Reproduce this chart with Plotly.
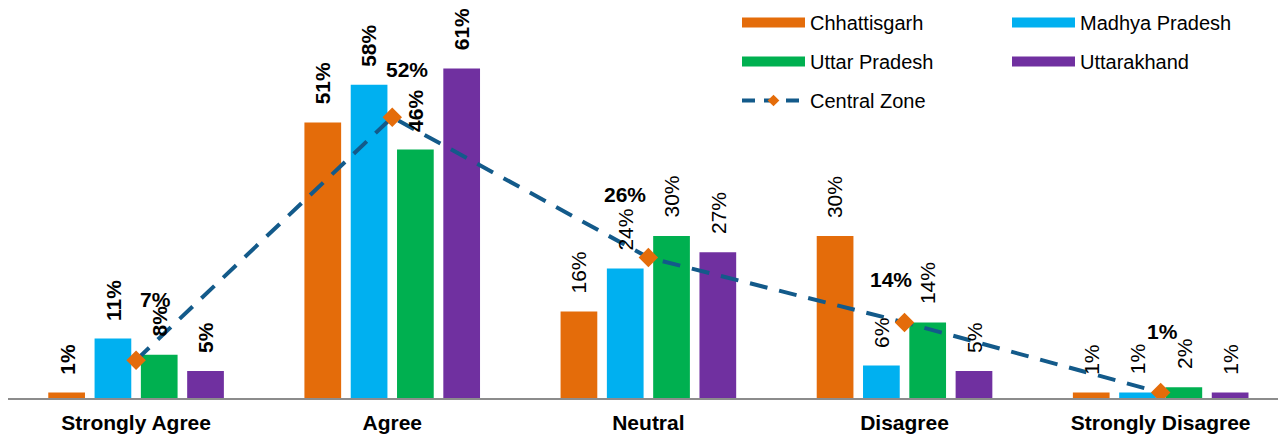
import plotly.graph_objects as go

# Survey response categories and the share (%) of respondents per state
categories = ["Strongly Agree", "Agree", "Neutral", "Disagree", "Strongly Disagree"]
chhattisgarh = [1, 51, 16, 30, 1]
madhya_pradesh = [11, 58, 24, 6, 1]
uttar_pradesh = [8, 46, 30, 14, 2]
uttarakhand = [5, 61, 27, 5, 1]
central_zone = [7, 52, 26, 14, 1]

state_names = ["Chhattisgarh", "Madhya Pradesh", "Uttar Pradesh", "Uttarakhand"]
state_values = [chhattisgarh, madhya_pradesh, uttar_pradesh, uttarakhand]

# Styling
state_colors = ["#E46C0A", "#00B0F0", "#00B050", "#7030A0"]
ZONE_LINE = "#135A8A"
ZONE_MARKER = "#E46C0A"
FONT = "Liberation Sans, Arial, sans-serif"
LABEL_SIZE = 21
BARGAP = 0.277
BARGROUPGAP = 0.207
BOLD_GROUPS = {0, 1}          # groups whose bar value labels are bold
BAR_LABEL_GAP = 16            # px between bar top and its rotated label
ZONE_LABEL_SHIFT = [(19, 47), (15, 34), (-23, 50), (-14, 29), (2, 48)]  # (dx, dy) px

x = list(range(len(categories)))
slot = (1 - BARGAP) / len(state_names)

fig = go.Figure()

for name, vals, color in zip(state_names, state_values, state_colors):
    fig.add_trace(go.Bar(x=x, y=vals, name=name, marker=dict(color=color, line=dict(width=0)),
                         showlegend=False))

# Value labels above each bar, rotated
annotations = []
for i, vals in enumerate(state_values):
    for j, v in enumerate(vals):
        annotations.append(dict(
            x=j + (i - 1.5) * slot, y=v, xref="x", yref="y",
            text=f"{v}%", textangle=-90, showarrow=False,
            yanchor="bottom", xanchor="center", yshift=BAR_LABEL_GAP,
            font=dict(family=FONT, size=LABEL_SIZE, color="#000000",
                      weight="bold" if j in BOLD_GROUPS else "normal"),
        ))

# Zone average labels
for j, v in enumerate(central_zone):
    dx, dy = ZONE_LABEL_SHIFT[j]
    annotations.append(dict(
        x=j, y=v, xref="x", yref="y", text=f"{v}%", showarrow=False,
        xanchor="center", yanchor="bottom", xshift=dx, yshift=dy,
        font=dict(family=FONT, size=LABEL_SIZE, color="#000000", weight="bold"),
    ))

# Legend-only entries drawn as thick bars
legend_of = {"Chhattisgarh": "legend", "Uttar Pradesh": "legend",
             "Madhya Pradesh": "legend2", "Uttarakhand": "legend2"}
for name in ["Chhattisgarh", "Uttar Pradesh", "Madhya Pradesh", "Uttarakhand"]:
    color = state_colors[state_names.index(name)]
    fig.add_trace(go.Scatter(x=[None], y=[None], mode="lines", name=name,
                             legendgroup=name, legend=legend_of[name],
                             line=dict(color=color, width=10)))

zone_line = dict(color=ZONE_LINE, width=4, dash="18px,12px")

# Central zone average line
fig.add_trace(go.Scatter(
    x=x, y=central_zone, mode="lines+markers", name="Central Zone",
    showlegend=False, line=zone_line,
    marker=dict(symbol="diamond", size=15, color=ZONE_MARKER),
))
# Its legend entry, with a smaller marker
fig.add_trace(go.Scatter(
    x=[None], y=[None], mode="lines+markers", name="Central Zone",
    legendgroup="Central Zone", legend="legend",
    line=dict(color=ZONE_LINE, width=4, dash="13px,9px"),
    marker=dict(symbol="diamond", size=9, color=ZONE_MARKER),
))

legend_style = dict(
    xref="paper", yref="paper", xanchor="left", yanchor="top",
    font=dict(family=FONT, size=20, color="#000000"),
    itemwidth=63, tracegroupgap=10, bgcolor="rgba(0,0,0,0)",
)

fig.update_layout(
    width=1278, height=435,
    margin=dict(l=8, r=0, t=0, b=37),
    paper_bgcolor="white", plot_bgcolor="white",
    barmode="group", bargap=BARGAP, bargroupgap=BARGROUPGAP,
    font=dict(family=FONT),
    xaxis=dict(
        range=[-0.5, 4.458], tickvals=x, ticktext=categories,
        showline=True, linecolor="#8C8C8C", linewidth=2,
        showgrid=False, zeroline=False, ticks="", ticklabelstandoff=5,
        tickfont=dict(family=FONT, size=LABEL_SIZE, color="#000000", weight="bold"),
    ),
    yaxis=dict(range=[0, 73.7], visible=False),
    legend=dict(x=(737 - 8) / 1270, y=1 - 3 / 398, **legend_style),
    legend2=dict(x=(1007 - 8) / 1270, y=1 - 3 / 398, **legend_style),
    annotations=annotations,
)

fig.write_html("out.html")
